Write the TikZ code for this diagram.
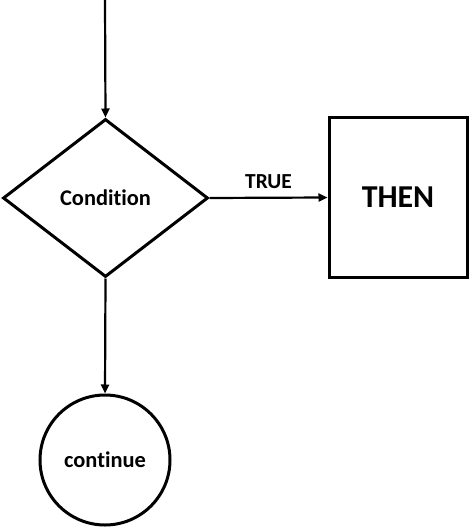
\documentclass[tikz,border=0pt]{standalone}
\usepackage{fontspec}
\setmainfont{Carlito}[Ligatures=NoCommon]
\usetikzlibrary{arrows.meta,shapes.geometric}
\begin{document}
\begin{tikzpicture}[x=1bp,y=-1bp,
  shp/.style={draw=black,line width=3bp,inner sep=0pt,font=\bfseries},
  conn/.style={line width=2.2bp,-{Triangle[length=9bp,width=8bp]}},
  lbl/.style={font=\bfseries\fontsize{21.5}{24}\selectfont,inner sep=0pt}]
\useasboundingbox (0,0) rectangle (469,528);
\coordinate (start) at (105,0);
\node[shp,diamond,minimum width=205bp,minimum height=158bp,aspect=1.3,font=\bfseries\fontsize{22.5}{26}\selectfont] (cond) at (105.5,198) {Condition};
\node[shp,rectangle,minimum width=138bp,minimum height=159bp,font=\bfseries\fontsize{32}{36}\selectfont] (then) at (398,197.5) {THEN};
\node[shp,circle,minimum size=130bp,font=\bfseries\fontsize{22.5}{26}\selectfont] (cont) at (105,460) {continue};
\draw[conn] (start) -- (cond.north);
\draw[conn] (cond.east) -- node[lbl,above=8bp] (tl) {TRUE} (then.west);
\draw[conn] (cond.south) -- (cont.north);
\end{tikzpicture}
\end{document}
